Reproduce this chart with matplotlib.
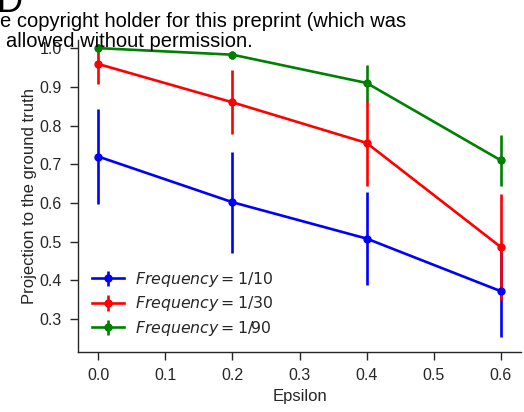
import matplotlib
matplotlib.use("Agg")
import matplotlib.pyplot as plt

epsilon = [0.0, 0.2, 0.4, 0.6]
labels = [r"$Frequency = 1/10$", r"$Frequency = 1/30$", r"$Frequency = 1/90$"]
colors = ["blue", "red", "green"]
means = [
    [0.720, 0.602, 0.508, 0.372],
    [0.959, 0.860, 0.755, 0.486],
    [1.000, 0.983, 0.910, 0.710],
]
errors = [
    [0.122, 0.130, 0.120, 0.118],
    [0.052, 0.083, 0.110, 0.136],
    [0.010, 0.010, 0.047, 0.066],
]
xticks = [0.0, 0.1, 0.2, 0.3, 0.4, 0.5, 0.6]
yticks = [0.3, 0.4, 0.5, 0.6, 0.7, 0.8, 0.9, 1.0]

plt.rcParams['font.family'] = ['Liberation Sans', 'DejaVu Sans']
plt.rcParams['mathtext.fontset'] = 'dejavusans'

fig = plt.figure(figsize=(5.24, 4.12), dpi=100)
ax = fig.add_axes([0.1489, 0.1456, 0.8454, 0.7564])

for m, e, c, l in zip(means, errors, colors, labels):
    ax.errorbar(epsilon, m, yerr=e, color=c, lw=1.9, elinewidth=1.9,
                marker='o', markersize=5, capsize=0, label=l)

ax.set_xlim(-0.03, 0.63)
ax.set_ylim(0.215, 1.02)
ax.set_xticks(xticks)
ax.set_xticklabels([f"{t:.1f}" for t in xticks])
ax.set_yticks(yticks)
ax.set_yticklabels([f"{t:.1f}" for t in yticks])
for s in ['top', 'right']:
    ax.spines[s].set_visible(False)
for s in ['left', 'bottom']:
    ax.spines[s].set_color('#262626')
    ax.spines[s].set_linewidth(1.0)
ax.tick_params(axis='both', direction='out', length=5.5, width=1, colors='#262626',
               labelsize=11.5, labelcolor='#262626')
ax.tick_params(axis='x', pad=6)
ax.tick_params(axis='y', pad=6)
ax.set_xlabel("Epsilon", fontsize=12, color='#262626', labelpad=4)
ax.set_ylabel("Projection to the ground truth", fontsize=12, color='#262626', labelpad=2)

leg = ax.legend(loc='lower left', frameon=False, fontsize=11.3, handlelength=2.0,
                borderaxespad=0.5, labelspacing=0.35, handletextpad=0.7)
for t in leg.get_texts():
    t.set_color('#262626')

fig.text(-0.004, 412 - 27, "e copyright holder for this preprint (which was",
         transform=None, fontsize=14.5, color='black', va='baseline')
fig.text(6, 412 - 47, "allowed without permission.", transform=None,
         fontsize=14.5, color='black', va='baseline')
fig.text(-3, 412 - 12, "D", transform=None, fontsize=26, color='black', va='baseline')

fig.savefig("out.png", dpi=100)
